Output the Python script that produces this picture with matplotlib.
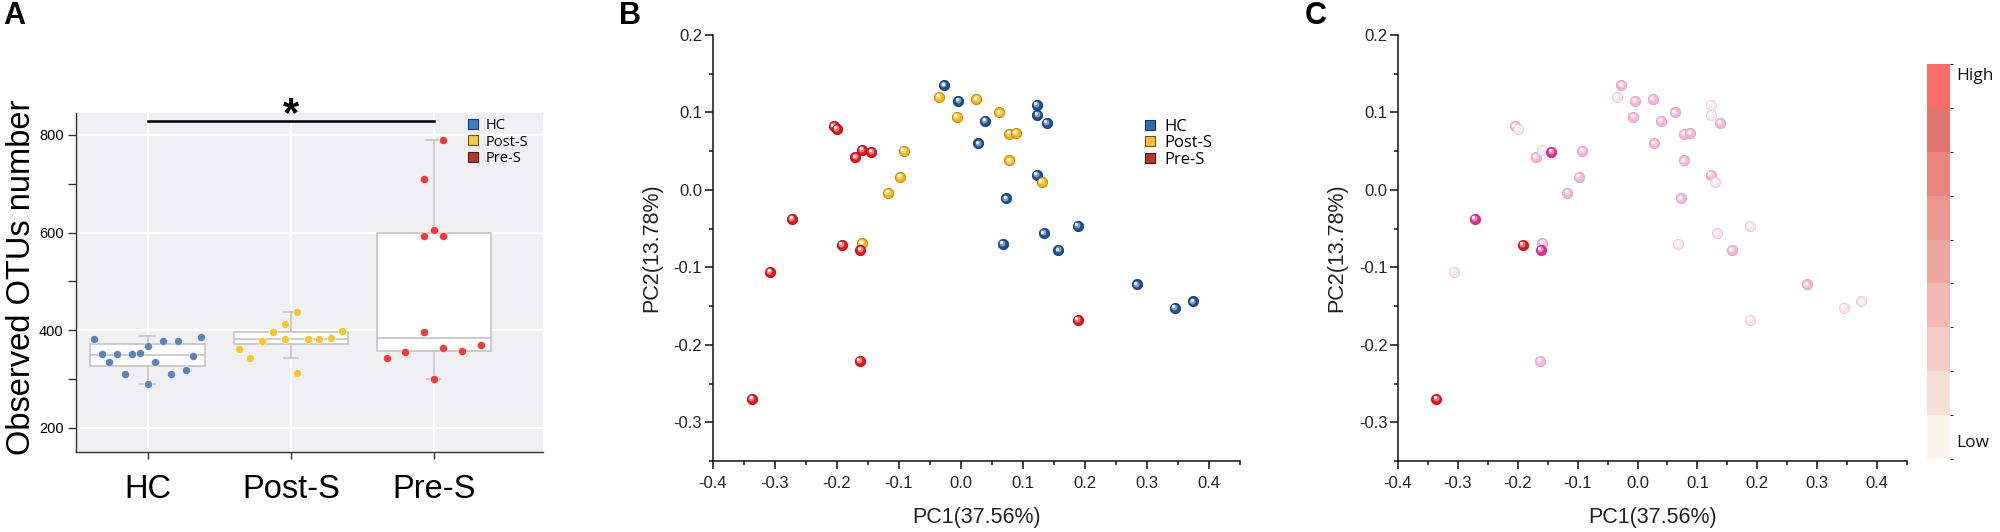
import numpy as np
import matplotlib
matplotlib.use('Agg')
import matplotlib.pyplot as plt
from matplotlib.lines import Line2D
from matplotlib.colors import ListedColormap, LinearSegmentedColormap, BoundaryNorm, to_rgb
from matplotlib.cm import ScalarMappable
import matplotlib.transforms as mtransforms
from matplotlib.ticker import MultipleLocator, FormatStrFormatter

plt.rcParams['font.family'] = ['Liberation Sans', 'DejaVu Sans']

# ---------------- data ----------------
groups = ['HC', 'Post-S', 'Pre-S']

# Panel A: observed OTUs per sample and their swarm offsets
hc_otus = [381, 350, 334, 350, 309, 350, 352, 367, 289, 335, 378, 310, 378, 318, 347, 386]
hc_jitter = [-0.374, -0.32, -0.267, -0.213, -0.16, -0.107, -0.053, 0, 0, 0.053, 0.107, 0.16,
             0.213, 0.267, 0.32, 0.374]
post_otus = [362, 342, 378, 397, 412, 382, 436, 311, 381.5, 381.5, 384, 398]
post_jitter = [-0.364, -0.284, -0.202, -0.123, -0.042, -0.042, 0.04, 0.04, 0.118, 0.197, 0.277, 0.357]
pre_otus = [343, 355, 710, 592, 395, 605, 299, 789, 592, 364, 358, 370]
pre_jitter = [-0.33, -0.202, -0.07, -0.07, -0.07, 0, 0, 0.061, 0.061, 0.061, 0.192, 0.324]

box_q1 = [326, 371, 358]
box_med = [349, 382, 383]
box_q3 = [372, 396, 600]
whisker_lo = [289, 342, 299]
whisker_hi = [388, 437, 790]
sig_level = 829

# Panel B/C: PCoA coordinates
hc_pc1 = [-0.027, -0.004, 0.039, 0.028, 0.122, 0.123, 0.138, 0.122, 0.073, 0.188, 0.133, 0.067,
          0.157, 0.283, 0.344, 0.374]
hc_pc2 = [0.135, 0.115, 0.089, 0.060, 0.110, 0.097, 0.087, 0.019, -0.011, -0.046, -0.056, -0.070,
          -0.078, -0.122, -0.152, -0.144]
post_pc1 = [-0.092, -0.098, -0.117, -0.159, -0.035, -0.007, 0.025, 0.062, 0.078, 0.088, 0.078, 0.130]
post_pc2 = [0.050, 0.017, -0.004, -0.069, 0.120, 0.094, 0.117, 0.100, 0.072, 0.073, 0.038, 0.010]
pre_pc1 = [-0.205, -0.200, -0.170, -0.159, -0.144, -0.272, -0.192, -0.162, -0.307, -0.336, -0.163, 0.188]
pre_pc2 = [0.082, 0.079, 0.042, 0.052, 0.049, -0.037, -0.071, -0.077, -0.106, -0.270, -0.221, -0.168]

# Panel C: relative abundance level (0 = low, 1 = high)
hc_level = [0.35, 0.35, 0.35, 0.35, 0.06, 0.06, 0.35, 0.35, 0.35, 0.08, 0.12, 0.08, 0.35, 0.35, 0.10, 0.10]
post_level = [0.35, 0.35, 0.35, 0.35, 0.10, 0.35, 0.35, 0.35, 0.35, 0.35, 0.35, 0.10]
pre_level = [0.35, 0.06, 0.35, 0.05, 0.75, 0.75, 1.0, 0.75, 0.10, 1.0, 0.35, 0.10]

cbar_colors = ['#fdf3ed', '#f8e0da', '#f4cbc5', '#f1bab3', '#eea8a1', '#eb978f', '#e8867e',
               '#e3756f', '#fc6d6a']

# ---------------- styles ----------------
a_colors = ['#5a86be', '#f5c534', '#ee3b3b']
a_leg_face = ['#3f7fc4', '#f3c94a', '#b23a30']
a_leg_edge = ['#1d3d66', '#6b5a1a', '#4a1a15']
b_colors = ['#1c4f95', '#fbb313', '#e8141c']
b_leg_face = ['#2f6db3', '#f8c33a', '#b8362e']
b_leg_edge = ['#1b3558', '#6b5316', '#4a1512']

fig = plt.figure(figsize=(20, 5.32), dpi=100)
W, H = 2000.0, 532.0


def fig_rect(l, r, t, b):
    return [l / W, 1 - b / H, (r - l) / W, (b - t) / H]


# ---------------- Panel A ----------------
axA = fig.add_axes(fig_rect(76, 543, 113, 452))
axA.set_facecolor('#f0eff1')
axA.set_xlim(-0.5, 2.76)
axA.set_ylim(150, 845)
axA.set_axisbelow(True)
axA.grid(True, color='white', lw=1.6)
for s in ['top', 'right']:
    axA.spines[s].set_visible(False)
for s in ['left', 'bottom']:
    axA.spines[s].set_color('#333333')
    axA.spines[s].set_linewidth(1.0)

stats = []
for i in range(3):
    stats.append(dict(med=box_med[i], q1=box_q1[i], q3=box_q3[i],
                      whislo=whisker_lo[i], whishi=whisker_hi[i], fliers=[]))
gcol = '#c4c4c4'
axA.bxp(stats, positions=[0, 1, 2], widths=0.8, patch_artist=True, showfliers=False,
        manage_ticks=False, capwidths=0.1,
        boxprops=dict(facecolor='white', edgecolor=gcol, lw=1.2),
        medianprops=dict(color=gcol, lw=1.2),
        whiskerprops=dict(color=gcol, lw=1.2),
        capprops=dict(color=gcol, lw=1.2), zorder=2)

for i, (vals, jit) in enumerate([(hc_otus, hc_jitter), (post_otus, post_jitter), (pre_otus, pre_jitter)]):
    axA.scatter(i + np.array(jit), vals, s=34, color=a_colors[i], edgecolors='white',
                linewidths=0.4, zorder=4, label=groups[i])

axA.set_xticks([0, 1, 2])
axA.set_xticklabels(groups, fontsize=23.5)
axA.set_yticks([200, 400, 600, 800])
axA.yaxis.set_minor_locator(MultipleLocator(100))
axA.tick_params(axis='x', length=5, width=1.0, color='#333333', pad=11)
axA.tick_params(axis='y', which='both', length=5.5, width=1.0, color='#333333', pad=3.5, labelsize=10.5)
axA.set_ylabel('Observed OTUs number', fontsize=23.5)
axA.yaxis.set_label_coords(-0.084, 0.516)

axA.plot([0, 2], [sig_level, sig_level], color='black', lw=1.8, zorder=5, clip_on=False)
blend = mtransforms.blended_transform_factory(axA.transData, axA.transAxes)
axA.text(1, 0.993, '*', transform=blend, ha='center', va='center', fontsize=30, fontweight='bold')

handlesA = [Line2D([], [], marker='s', ls='none', markersize=6.5, markerfacecolor=a_leg_face[i],
                   markeredgecolor=a_leg_edge[i], markeredgewidth=0.8) for i in range(3)]
axA.legend(handlesA, groups, loc='upper left', bbox_to_anchor=(0.84, 0.985), frameon=False,
           borderpad=0, borderaxespad=0, handlelength=0.7, handletextpad=0.5, labelspacing=0.1,
           prop=dict(family='Open Sans', size=10.5))


# ---------------- sphere helper ----------------
def spheres(ax, xs, ys, colors, s=55, edge_f=0.72, z0=3.0):
    fig_ = ax.figure
    tr1 = mtransforms.offset_copy(ax.transData, fig=fig_, x=-0.55, y=0.65, units='points')
    tr2 = mtransforms.offset_copy(ax.transData, fig=fig_, x=-0.95, y=1.25, units='points')
    z = z0
    for x, y, c in zip(xs, ys, colors):
        base = np.array(to_rgb(c))
        edge = base * edge_f
        light = base + (1 - base) * 0.45
        ax.scatter([x], [y], s=s, color=[base], edgecolors=[edge], linewidths=0.6, zorder=z)
        ax.scatter([x], [y], s=s * 0.33, color=[light], linewidths=0, transform=tr1, zorder=z + 0.001)
        ax.scatter([x], [y], s=s * 0.09, color='white', linewidths=0, transform=tr2, zorder=z + 0.002)
        z += 0.01


def style_pcoa(ax):
    ax.set_xlim(-0.4, 0.45)
    ax.set_ylim(-0.35, 0.2)
    for s in ['top', 'right']:
        ax.spines[s].set_visible(False)
    for s in ['left', 'bottom']:
        ax.spines[s].set_linewidth(1.1)
        ax.spines[s].set_color('#111111')
    ax.xaxis.set_major_locator(MultipleLocator(0.1))
    ax.xaxis.set_minor_locator(MultipleLocator(0.05))
    ax.yaxis.set_major_locator(MultipleLocator(0.1))
    ax.yaxis.set_minor_locator(MultipleLocator(0.05))
    ax.xaxis.set_major_formatter(FormatStrFormatter('%.1f'))
    ax.yaxis.set_major_formatter(FormatStrFormatter('%.1f'))
    ax.tick_params(which='major', length=5.5, width=1.1, color='#111111', labelsize=12,
                   labelcolor='#222222')
    ax.tick_params(which='minor', length=3, width=1.1, color='#111111')
    ax.tick_params(axis='x', which='major', pad=5)
    ax.tick_params(axis='y', which='major', pad=2)
    ax.set_xlabel('PC1(37.56%)', fontsize=15.5, color='#222222')
    ax.set_ylabel('PC2(13.78%)', fontsize=15.5, color='#222222')
    ax.xaxis.set_label_coords(0.5, -0.108)


# ---------------- Panel B ----------------
axB = fig.add_axes(fig_rect(712.5, 1240.4, 35, 461))
style_pcoa(axB)
axB.yaxis.set_label_coords(-0.096, 0.5)
for i, (px, py) in enumerate([(hc_pc1, hc_pc2), (post_pc1, post_pc2), (pre_pc1, pre_pc2)]):
    spheres(axB, px, py, [b_colors[i]] * len(px), z0=3 + i)

handlesB = [Line2D([], [], marker='s', ls='none', markersize=7, markerfacecolor=b_leg_face[i],
                   markeredgecolor=b_leg_edge[i], markeredgewidth=0.8) for i in range(3)]
axB.legend(handlesB, groups, loc='upper left', bbox_to_anchor=(0.818, 0.803), frameon=False,
           borderpad=0, borderaxespad=0, handlelength=0.7, handletextpad=0.5, labelspacing=0.02,
           prop=dict(family='Open Sans', size=12))

# ---------------- Panel C ----------------
axC = fig.add_axes(fig_rect(1398, 1907, 35, 461))
style_pcoa(axC)
axC.yaxis.set_label_coords(-0.1, 0.5)
pink_cmap = LinearSegmentedColormap.from_list(
    'abund', [(0.0, '#fdf2f8'), (0.35, '#f6b3d8'), (0.75, '#e22c8d'), (1.0, '#e8101a')])
for i, (px, py, lv) in enumerate([(hc_pc1, hc_pc2, hc_level), (post_pc1, post_pc2, post_level),
                                  (pre_pc1, pre_pc2, pre_level)]):
    cols = [pink_cmap(v)[:3] for v in lv]
    spheres(axC, px, py, cols, edge_f=0.9, z0=3 + i)

cax = fig.add_axes(fig_rect(1926.7, 1950, 64, 459))
nb = len(cbar_colors)
cb = fig.colorbar(ScalarMappable(norm=BoundaryNorm(np.arange(nb + 1), nb), cmap=ListedColormap(cbar_colors)),
                  cax=cax)
cb.outline.set_visible(False)
cb.set_ticks([])
cax.text(1.25, 0.97, 'High', transform=cax.transAxes, ha='left', va='center',
         fontsize=12.5, family='Open Sans', color='#111111')
cax.text(1.25, 0.04, 'Low', transform=cax.transAxes, ha='left', va='center',
         fontsize=12.5, family='Open Sans', color='#111111')

# ---------------- panel letters ----------------
for lab, xpx in [('A', 3), ('B', 619), ('C', 1305)]:
    fig.text(xpx / W, 1 - 1 / H, lab, ha='left', va='top', fontsize=22, fontweight='bold')

fig.savefig('out.png', dpi=100)
